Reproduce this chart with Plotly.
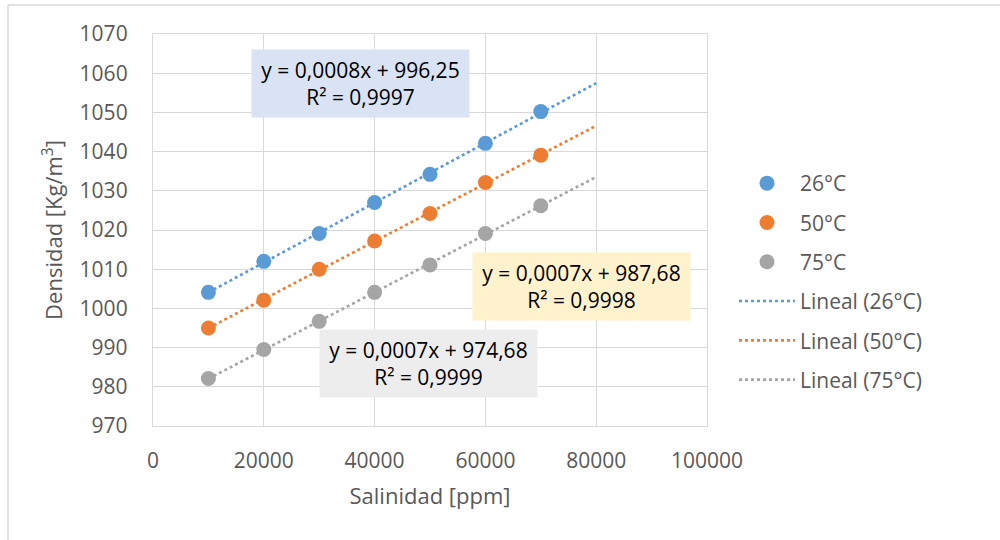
import numpy as np
import plotly.graph_objects as go

# ---- data ----
salinidad = [10000, 20000, 30000, 40000, 50000, 60000, 70000]
dens_26 = [1004.1, 1012.0, 1019.1, 1027.0, 1034.2, 1042.1, 1050.2]
dens_50 = [995.0, 1002.1, 1010.0, 1017.2, 1024.2, 1032.1, 1039.1]
dens_75 = [982.1, 989.5, 996.7, 1004.1, 1011.1, 1019.1, 1026.2]
series_names = ["26°C", "50°C", "75°C"]
trend_names = ["Lineal (26°C)", "Lineal (50°C)", "Lineal (75°C)"]
trend_range = [10000, 80000]
eq_texts = [
    "y = 0,0008x + 996,25<br>R² = 0,9997",
    "y = 0,0007x + 987,68<br>R² = 0,9998",
    "y = 0,0007x + 974,68<br>R² = 0,9999",
]
x_ticks = [0, 20000, 40000, 60000, 80000, 100000]
y_ticks = [970, 980, 990, 1000, 1010, 1020, 1030, 1040, 1050, 1060, 1070]

colors = ["#5B9BD5", "#ED7D31", "#A5A5A5"]
box_colors = ["#DAE3F3", "#FFF2CC", "#EDEDED"]
FONT = "Open Sans"

W, H = 1000, 540
L, R, T, B = 153, 707, 34, 426  # plot area pixel bounds


def px(x):
    return (x - L) / (R - L)


def py(y):
    return (B - y) / (B - T)


fig = go.Figure()
all_series = [dens_26, dens_50, dens_75]
for name, ys, c in zip(series_names, all_series, colors):
    fig.add_trace(go.Scatter(
        x=salinidad, y=ys, mode="markers", name=name,
        marker=dict(color=c, size=15, line=dict(width=0)),
        legendgroup=name,
    ))

for name, ys, c in zip(trend_names, all_series, colors):
    m, b = np.polyfit(salinidad, ys, 1)
    xs = np.array(trend_range, dtype=float)
    fig.add_trace(go.Scatter(
        x=xs, y=m * xs + b, mode="lines", name=name,
        line=dict(color=c, width=2.6, dash="dot"),
        legendgroup=name,
    ))

# equation boxes (pixel centres and sizes)
box_geo = [(360.5, 83.5), (581.5, 286.5), (428.5, 363.5)]
for (cx, cy), txt, bc in zip(box_geo, eq_texts, box_colors):
    fig.add_annotation(
        x=px(cx), y=py(cy), xref="paper", yref="paper",
        xanchor="center", yanchor="middle",
        text=txt, showarrow=False, align="center",
        bgcolor=bc, width=211, height=61, borderpad=3,
        font=dict(family=FONT, size=21, color="#000000"),
    )

# chart-area border (top and left visible)
fig.add_shape(type="line", xref="paper", yref="paper",
              x0=px(8), x1=px(1000), y0=py(5), y1=py(5),
              line=dict(color="#D9D9D9", width=1.5))
fig.add_shape(type="line", xref="paper", yref="paper",
              x0=px(8), x1=px(8), y0=py(5), y1=py(545),
              line=dict(color="#D9D9D9", width=1.5))

axis_common = dict(
    showgrid=True, gridcolor="#D9D9D9", gridwidth=1.3,
    showline=True, linecolor="#D9D9D9", linewidth=1.3, mirror=True,
    zeroline=False,
    tickfont=dict(family=FONT, size=21, color="#595959"),
    ticks="outside", tickcolor="rgba(0,0,0,0)",
)

fig.update_xaxes(
    range=[0, 100000], tickvals=x_ticks, ticktext=[str(v) for v in x_ticks],
    ticklen=16,
    title=dict(text="Salinidad [ppm]", standoff=15,
               font=dict(family=FONT, size=22, color="#595959")),
    **axis_common,
)
fig.update_yaxes(
    range=[970, 1070], tickvals=y_ticks, ticktext=[str(v) for v in y_ticks],
    ticklen=20,
    title=dict(text="Densidad [Kg/m<sup>3</sup>]", standoff=10,
               font=dict(family=FONT, size=22, color="#595959")),
    **axis_common,
)

fig.update_layout(
    width=W, height=H,
    margin=dict(l=L, r=W - R, t=T, b=H - B, autoexpand=False),
    paper_bgcolor="white", plot_bgcolor="white",
    showlegend=True,
    legend=dict(
        x=px(734), y=py(163), xanchor="left", yanchor="top",
        xref="paper", yref="paper",
        font=dict(family=FONT, size=21, color="#595959"),
        itemwidth=56, traceorder="grouped", tracegroupgap=9,
        bgcolor="rgba(0,0,0,0)",
    ),
)

fig.write_html(
    "out.html",
    config={"displayModeBar": False},
    post_script="document.body.style.margin='0';document.body.style.padding='0';",
)
